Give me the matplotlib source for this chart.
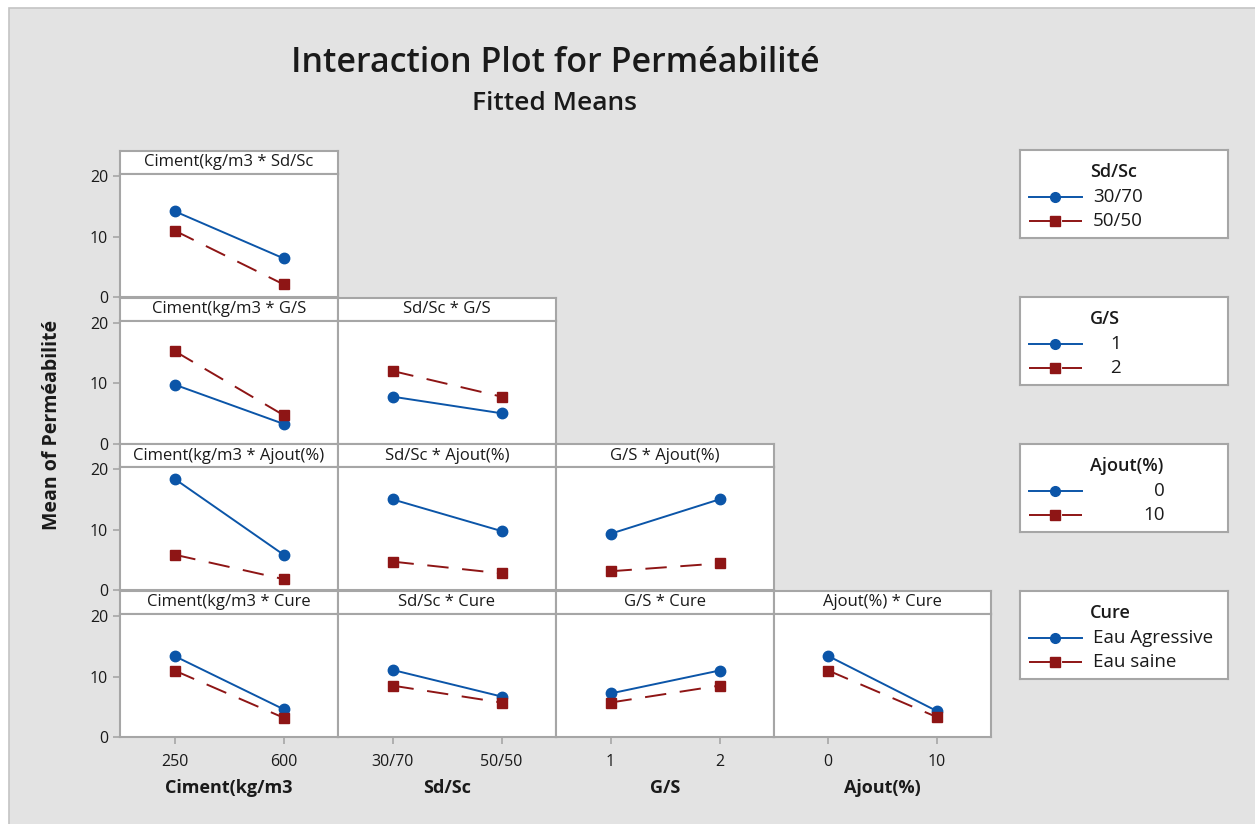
import matplotlib
matplotlib.use('Agg')
import matplotlib.pyplot as plt
from matplotlib.patches import Rectangle

plt.rcParams['font.family'] = ['Open Sans', 'DejaVu Sans']

# factors (x-axis factors are the first four, trace factors the last four)
factor_names = ['Ciment(kg/m3', 'Sd/Sc', 'G/S', 'Ajout(%)', 'Cure']
factor_levels = [['250', '600'], ['30/70', '50/50'], ['1', '2'], ['0', '10'],
                 ['Eau Agressive', 'Eau saine']]

# fitted means: [level 1 of x factor, level 2 of x factor]
ciment_sdsc_3070 = [14.2, 6.4]
ciment_sdsc_5050 = [11.0, 2.1]

ciment_gs_1 = [9.75, 3.25]
ciment_gs_2 = [15.3, 4.7]
sdsc_gs_1 = [7.75, 5.0]
sdsc_gs_2 = [12.0, 7.75]

ciment_ajout_0 = [18.4, 5.85]
ciment_ajout_10 = [5.85, 1.8]
sdsc_ajout_0 = [15.0, 9.75]
sdsc_ajout_10 = [4.7, 2.75]
gs_ajout_0 = [9.3, 15.0]
gs_ajout_10 = [3.1, 4.4]

ciment_cure_agr = [13.4, 4.6]
ciment_cure_saine = [11.0, 3.2]
sdsc_cure_agr = [11.1, 6.7]
sdsc_cure_saine = [8.5, 5.7]
gs_cure_agr = [7.2, 11.0]
gs_cure_saine = [5.7, 8.5]
ajout_cure_agr = [13.4, 4.3]
ajout_cure_saine = [11.0, 3.3]

panels = {
    (0, 0): (ciment_sdsc_3070, ciment_sdsc_5050),
    (1, 0): (ciment_gs_1, ciment_gs_2),
    (1, 1): (sdsc_gs_1, sdsc_gs_2),
    (2, 0): (ciment_ajout_0, ciment_ajout_10),
    (2, 1): (sdsc_ajout_0, sdsc_ajout_10),
    (2, 2): (gs_ajout_0, gs_ajout_10),
    (3, 0): (ciment_cure_agr, ciment_cure_saine),
    (3, 1): (sdsc_cure_agr, sdsc_cure_saine),
    (3, 2): (gs_cure_agr, gs_cure_saine),
    (3, 3): (ajout_cure_agr, ajout_cure_saine),
}

BLUE = '#0b55a8'
RED = '#8e1515'
EDGE = '#a6a6a6'
TXT = '#1a1a1a'
W, H = 1255, 824


def rect(x0, y0, x1, y1):
    return [x0 / W, 1 - y1 / H, (x1 - x0) / W, (y1 - y0) / H]


fig = plt.figure(figsize=(W / 100, H / 100), dpi=100)
fig.patch.set_facecolor('white')
fig.patches.append(Rectangle((9 / W, -0.05), 1.1, 1.05 - 8 / H, transform=fig.transFigure,
                             facecolor='#e3e3e3', edgecolor='#c4c4c4', lw=1.2, zorder=-10))

col_x = [120, 338, 556, 774, 991]
row_top = [151, 297.5, 444, 591]
strip_h = 23
plot_h = 123

for (r, c), (s1, s2) in panels.items():
    x0, x1 = col_x[c], col_x[c + 1]
    top = row_top[r]
    # strip with the panel title
    sax = fig.add_axes(rect(x0, top, x1, top + strip_h))
    sax.set_xticks([])
    sax.set_yticks([])
    for sp in sax.spines.values():
        sp.set_color(EDGE)
        sp.set_linewidth(1.5)
    sax.text(0.5, 0.5, factor_names[c] + ' * ' + factor_names[r + 1], ha='center', va='center',
             fontsize=12, color=TXT, transform=sax.transAxes)

    ax = fig.add_axes(rect(x0, top + strip_h, x1, top + strip_h + plot_h))
    ax.plot([0, 1], s1, color=BLUE, lw=1.4, marker='o', ms=7.5)
    ax.plot([0, 1], s2, color=RED, lw=1.4, marker='s', ms=7.5, dashes=(11, 7))
    ax.set_xlim(-0.5, 1.5)
    ax.set_ylim(0, 20.35)
    for sp in ax.spines.values():
        sp.set_color(EDGE)
        sp.set_linewidth(1.5)
    ax.tick_params(colors=EDGE, labelcolor=TXT, labelsize=11.5, length=5, width=1.2)
    if c == 0:
        ax.set_yticks([0, 10, 20])
    else:
        ax.set_yticks([])
    if r == 3:
        ax.set_xticks([0, 1])
        ax.set_xticklabels(factor_levels[c])
        ax.tick_params(axis='x', pad=7)
        ax.set_xlabel(factor_names[c], fontsize=13, fontweight='bold', color=TXT, labelpad=7)
    else:
        ax.set_xticks([])

# legends, one per trace factor
legend_top = [150, 297, 444, 591]
legend_align = [('left', 1093), ('right', 1121), ('right', 1165), ('left', 1093)]
for i in range(4):
    top = legend_top[i]
    lax = fig.add_axes(rect(1020, top, 1228, top + 88))
    lax.set_xlim(1020, 1228)
    lax.set_ylim(top + 88, top)
    lax.set_xticks([])
    lax.set_yticks([])
    for sp in lax.spines.values():
        sp.set_color(EDGE)
        sp.set_linewidth(1.5)
    name = factor_names[i + 1]
    levels = factor_levels[i + 1]
    lax.text(1090, top + 22, name, ha='left', va='center', fontsize=13, fontweight='semibold', color=TXT)
    ha, xt = legend_align[i]
    lax.plot([1029, 1082], [top + 47, top + 47], color=BLUE, lw=1.4)
    lax.plot([1055], [top + 47], color=BLUE, marker='o', ms=7)
    lax.plot([1029, 1082], [top + 71, top + 71], color=RED, lw=1.4, dashes=(14, 3))
    lax.plot([1055], [top + 71], color=RED, marker='s', ms=7)
    lax.text(xt, top + 47, levels[0], ha=ha, va='center', fontsize=13.5, color=TXT)
    lax.text(xt, top + 71, levels[1], ha=ha, va='center', fontsize=13.5, color=TXT)

fig.text(555 / W, 1 - 63 / H, 'Interaction Plot for Perméabilité', ha='center', va='center',
         fontsize=24.5, fontweight='semibold', color=TXT)
fig.text(555 / W, 1 - 103 / H, 'Fitted Means', ha='center', va='center',
         fontsize=19, fontweight='semibold', color=TXT)
fig.text(52 / W, 1 - 425 / H, 'Mean of Perméabilité', ha='center', va='center', rotation=90,
         fontsize=14, fontweight='bold', color=TXT)

fig.savefig('out.png', dpi=100)
